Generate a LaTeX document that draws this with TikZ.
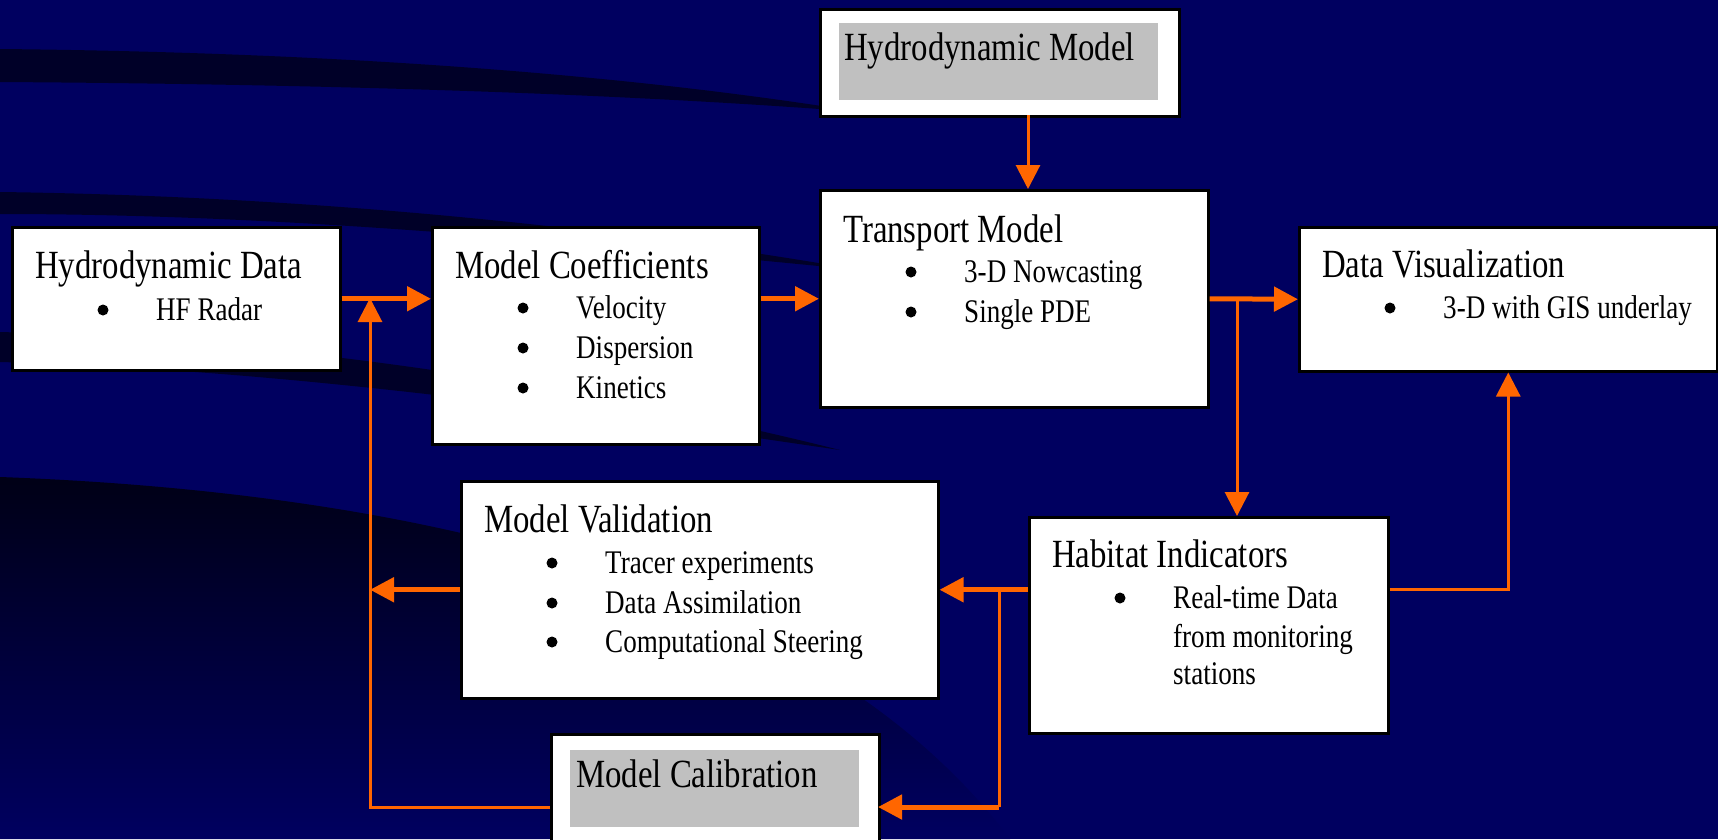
\documentclass[tikz,border=0pt]{standalone}
\usepackage{fontspec}
\setmainfont[FakeStretch=0.82]{Liberation Serif}
\usetikzlibrary{arrows.meta}
\definecolor{bgnavy}{RGB}{0,0,96}
\definecolor{swoosh}{RGB}{0,0,40}
\definecolor{darkest}{RGB}{0,0,22}
\definecolor{flowc}{RGB}{255,102,0}
\definecolor{shadeg}{RGB}{192,192,192}
\tikzstyle{box}=[draw=black,line width=2.5pt,fill=white,anchor=north west,inner sep=0pt]
\tikzstyle{Gbox}=[fill=shadeg,anchor=north west,inner sep=0pt]
\tikzstyle{ttl}=[anchor=base west,inner sep=0pt,font=\fontsize{40}{48}\selectfont]
\tikzstyle{itm}=[anchor=base west,inner sep=0pt,font=\fontsize{33}{40}\selectfont]
\tikzstyle{flow}=[draw=flowc,line width=5pt,-{Triangle[length=24pt,width=24pt]}]
\tikzstyle{Tflow}=[draw=flowc,line width=3pt,-{Triangle[length=24pt,width=24pt]}]
\tikzstyle{Tline}=[draw=flowc,line width=3pt]
% item with its bullet 53pt to the left
\newcommand{\bitem}[4]{\node[itm] (#1) at (#2,#3) {#4};
    \fill[black] (#2-53,#3-10) circle (5.5pt);}

\begin{document}
\begin{tikzpicture}[x=1pt,y=-1pt]
    % background
    \fill[bgnavy] (0,0) rectangle (1718,839);
    \useasboundingbox (0,0) rectangle (1718,839);
    \fill[swoosh] (0,49) .. controls (300,52) and (600,70) .. (860,112)
        .. controls (600,92) and (300,84) .. (0,82) -- cycle;
    \fill[swoosh] (0,192) .. controls (300,196) and (600,225) .. (860,270)
        .. controls (600,245) and (300,214) .. (0,214) -- cycle;
    \fill[swoosh] (0,332) .. controls (300,340) and (600,390) .. (840,450)
        .. controls (600,415) and (300,370) .. (0,362) -- cycle;
    \shade[top color=darkest,middle color=darkest,bottom color=bgnavy]
        (0,477) .. controls (350,490) and (800,560) .. (1010,839) -- (0,839) -- cycle;

    % boxes
    \node[box,minimum width=359pt,minimum height=107pt] (HM) at (819,8) {};
    \node[Gbox,minimum width=319pt,minimum height=77pt] (HMg) at (839,23) {};
    \node[ttl] (HMt) at (844,60) {Hydrodynamic Model};

    \node[box,minimum width=328pt,minimum height=143pt] (HD) at (11,226) {};
    \node[ttl] (HDt) at (35,278) {Hydrodynamic Data};
    \bitem{HD1}{156}{320}{HF Radar}

    \node[box,minimum width=327pt,minimum height=217pt] (MC) at (431,226) {};
    \node[ttl] (MCt) at (455,278) {Model Coefficients};
    \bitem{MC1}{576}{318}{Velocity}
    \bitem{MC2}{576}{358}{Dispersion}
    \bitem{MC3}{576}{398}{Kinetics}

    \node[box,minimum width=388pt,minimum height=217pt] (TM) at (819,189) {};
    \node[ttl] (TMt) at (843,242) {Transport Model};
    \bitem{TM1}{964}{282}{3-D Nowcasting}
    \bitem{TM2}{964}{322}{Single PDE}

    \node[box,minimum width=418pt,minimum height=144pt] (DV) at (1298,226) {};
    \node[ttl] (DVt) at (1322,277) {Data Visualization};
    \bitem{DV1}{1443}{318}{3-D with GIS underlay}

    \node[box,minimum width=477pt,minimum height=217pt] (MV) at (460,480) {};
    \node[ttl] (MVt) at (484,532) {Model Validation};
    \bitem{MV1}{605}{573}{Tracer experiments}
    \bitem{MV2}{605}{613}{Data Assimilation}
    \bitem{MV3}{605}{652}{Computational Steering}

    \node[box,minimum width=359pt,minimum height=216pt] (HI) at (1028,516) {};
    \node[ttl] (HIt) at (1052,567) {Habitat Indicators};
    \bitem{HI1}{1173}{608}{Real-time Data}
    \node[itm] (HI2) at (1173,647) {from monitoring};
    \node[itm] (HI3) at (1173,684) {stations};

    \node[box,minimum width=328pt,minimum height=120pt] (CAL) at (550,733) {};
    \node[Gbox,minimum width=289pt,minimum height=77pt] (CALg) at (570,750) {};
    \node[ttl] (CALt) at (576,787) {Model Calibration};

    % connectors
    \coordinate (HMo) at (1028,115);
    \coordinate (TMs) at (1237,298);
    \coordinate (HIs) at (999,588);
    \coordinate (CALi) at (878,807);
    \coordinate (HDs) at (370,298);
    \draw[Tflow] (HMo) -- (HMo |- TM.north);
    \draw[flow] (HD.east) -- (MC.west |- HD.east);
    \draw[flow] (MC.east |- TM.west) -- (TM.west);
    \draw[flow] (TM.east) -- (DV.west);
    \draw[Tflow] (TMs) -- (TMs |- HI.north);
    \draw[flow] (HI.west |- MV.east) -- (MV.east);
    \draw[Tflow] (HI.east |- MV.east) -| (DV.south);
    \draw[Tline] (HIs) -- (HIs |- CALi);
    \draw[flow] (HIs |- CALi) -- (CALi);
    \draw[flow] (MV.west) -- (MV.west -| HDs);
    \draw[Tflow] (CAL.west |- CALi) -| (HDs);
\end{tikzpicture}
\end{document}
